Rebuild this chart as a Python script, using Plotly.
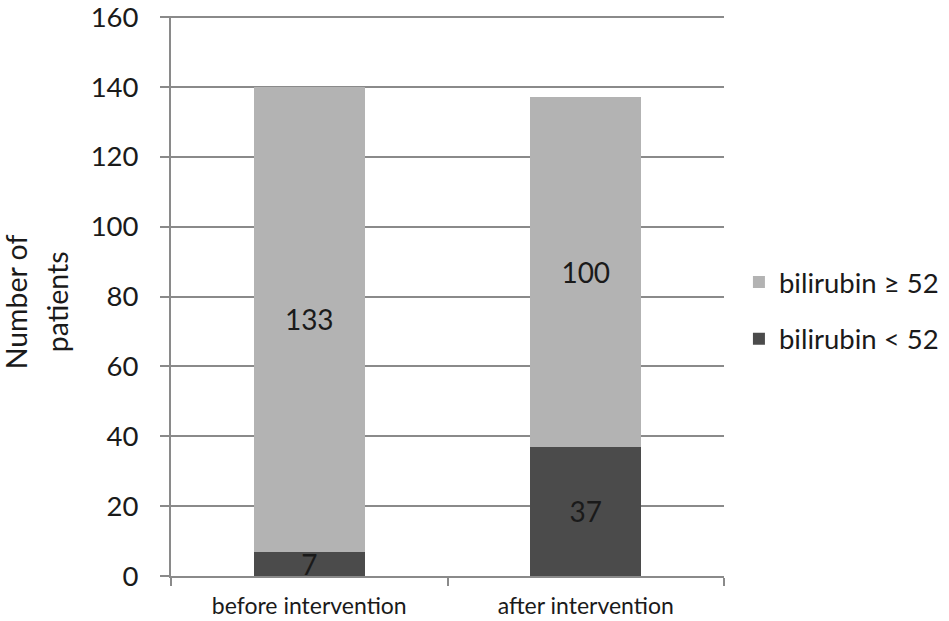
import plotly.graph_objects as go

categories = ["before intervention", "after intervention"]
low_values = [7, 37]        # bilirubin < 52
high_values = [133, 100]    # bilirubin >= 52
y_ticks = [0, 20, 40, 60, 80, 100, 120, 140, 160]

FONT = "Lato, 'Open Sans', sans-serif"
LIGHT = "#b3b3b3"
DARK = "#4b4b4b"
GRID = "#8a8a8a"
TXT = "#1a1a1a"

fig = go.Figure()
fig.add_trace(go.Bar(
    x=categories, y=low_values, name="bilirubin < 52",
    marker=dict(color=DARK, line=dict(width=0)),
    text=[str(v) for v in low_values], textposition="inside",
    insidetextanchor="middle", textangle=0,
    textfont=dict(color=TXT, size=28, family=FONT),
    legendgroup="low", legendrank=2,
))
fig.add_trace(go.Bar(
    x=categories, y=high_values, name="bilirubin ≥ 52",
    marker=dict(color=LIGHT, line=dict(width=0)),
    text=[str(v) for v in high_values], textposition="inside",
    insidetextanchor="middle", textangle=0,
    textfont=dict(color=TXT, size=28, family=FONT),
    legendgroup="high", legendrank=1,
))

fig.update_layout(
    barmode="stack",
    bargap=0.6,
    width=949, height=621,
    margin=dict(l=171, r=225, t=16, b=45, autoexpand=False),
    paper_bgcolor="white", plot_bgcolor="white",
    font=dict(family=FONT, color=TXT, size=28),
    uniformtext=dict(mode="show", minsize=28),
    legend=dict(
        x=1.027, y=0.474, xanchor="left", yanchor="middle",
        traceorder="grouped", tracegroupgap=18,
        font=dict(size=27.5, family=FONT, color=TXT),
        bgcolor="rgba(0,0,0,0)",
    ),
    xaxis=dict(
        type="category", tickson="boundaries", ticks="outside",
        ticklen=8, tickwidth=2, tickcolor=GRID,
        showline=True, linecolor=GRID, linewidth=2,
        showgrid=False, automargin=False,
        ticklabelstandoff=8,
        tickfont=dict(size=23, family=FONT, color=TXT),
    ),
    yaxis=dict(
        range=[0, 160.3], tickvals=y_ticks, ticks="outside",
        ticklen=9, tickwidth=2, tickcolor=GRID,
        showline=True, linecolor=GRID, linewidth=2,
        showgrid=True, gridcolor=GRID, gridwidth=2,
        zeroline=False, automargin=False,
        ticklabelstandoff=16, ticklabeloverflow="allow",
        tickfont=dict(size=27.5, family=FONT, color=TXT),
    ),
    annotations=[
        dict(text="Number of", xref="paper", yref="paper",
             x=-0.280, y=0.489, xanchor="center", yanchor="middle",
             textangle=-90, showarrow=False,
             font=dict(size=28.5, family=FONT, color=TXT)),
        dict(text="patients", xref="paper", yref="paper",
             x=-0.206, y=0.489, xanchor="center", yanchor="middle",
             textangle=-90, showarrow=False,
             font=dict(size=28.5, family=FONT, color=TXT)),
    ],
)

fig.write_html("out.html", config={"displayModeBar": False},
               post_script="document.body.style.margin='0';")
